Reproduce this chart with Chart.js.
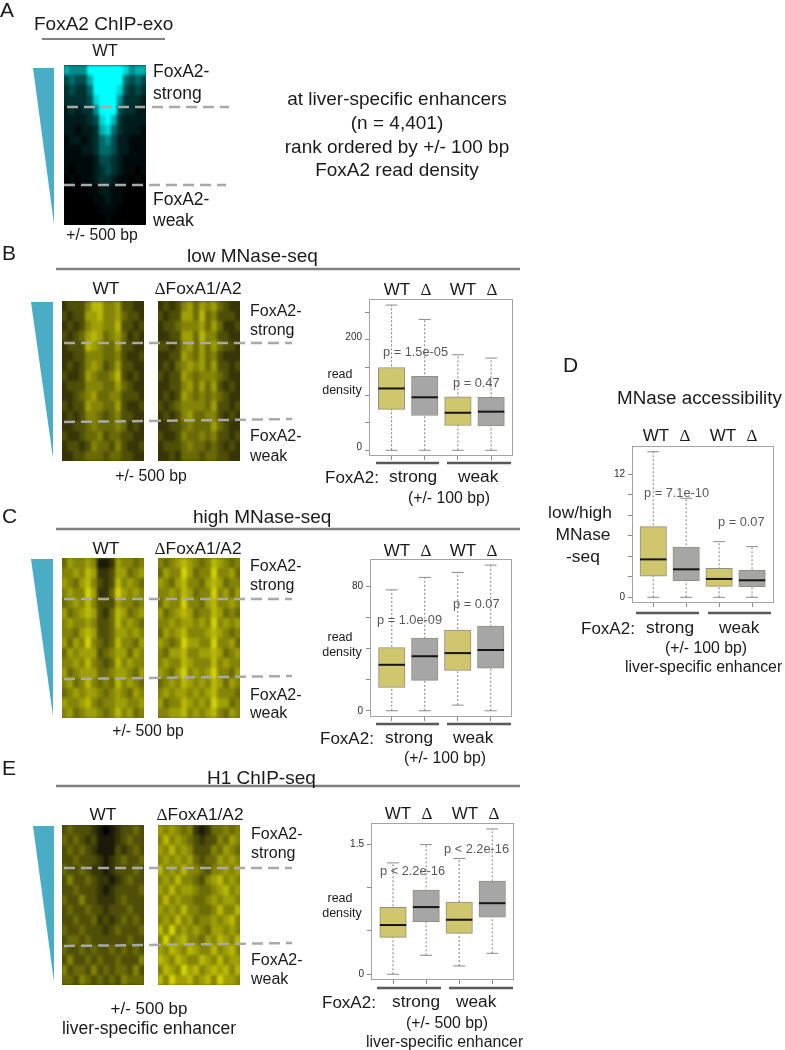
<!DOCTYPE html>
<html lang="en">
<head>
<meta charset="UTF-8">
<title>FoxA2 MNase figure</title>
<script src="https://cdn.jsdelivr.net/npm/chart.js"></script>
<style>
    html, body { margin: 0; padding: 0; background: #fff; }
    #page { position: relative; width: 785px; height: 1050px; overflow: hidden; font-family: "Liberation Sans", Arial, sans-serif; color: #1a1a1a; }
    #page svg { position: absolute; left: 0; top: 0; z-index: 3; }
    .txt { position: absolute; white-space: nowrap; line-height: 1; z-index: 4; }
    .heat { position: absolute; overflow: hidden; }
    .heat canvas { position: absolute; left: -1px; top: 0; filter: blur(1.7px); }
    .box { position: absolute; }
    .d { font-family: "Liberation Serif", serif; }
</style>
</head>
<body>
<div id="page">
    <svg id="marks" width="785" height="1050"></svg>
</div>
<script>
    // heatmap values, 0 (dark) to 9 (bright), rows top to bottom
    const chipExo = [
        [7,6,6,6,9,9,9,9,9,9,8,6,7,7],
        [4,5,4,4,7,9,9,9,9,9,5,4,5,4],
        [3,4,3,3,5,9,9,9,9,8,4,3,4,3],
        [3,3,3,3,4,8,9,9,9,6,3,3,3,2],
        [2,3,2,3,3,6,9,9,9,4,3,3,2,2],
        [2,2,2,2,3,4,8,9,7,3,2,2,2,2],
        [2,2,1,2,2,3,7,8,5,3,2,2,2,1],
        [1,2,2,1,2,3,5,6,4,2,2,1,1,1],
        [1,1,1,2,2,3,5,5,4,2,2,1,1,1],
        [1,1,1,1,1,2,4,4,3,2,1,1,1,1],
        [1,0,1,1,1,2,3,4,3,2,1,1,0,1],
        [0,1,0,1,1,2,3,3,2,1,1,0,1,0],
        [0,0,0,0,1,1,2,2,1,1,0,0,0,0],
        [0,0,0,0,0,1,1,2,1,1,0,0,0,0],
        [0,0,0,0,0,0,1,1,1,0,0,0,0,0],
        [0,0,0,0,0,0,0,1,0,0,0,0,0,0]
    ];
    const lowWT = [
        [2,3,3,3,5,7,7,5,5,6,3,3,2,2],
        [3,2,3,3,6,6,7,5,5,6,4,3,3,2],
        [2,3,2,3,5,6,6,5,5,7,3,3,2,3],
        [3,2,3,4,6,7,6,4,5,6,4,2,3,2],
        [2,3,3,3,7,6,5,4,4,6,3,3,2,2],
        [2,2,3,3,5,5,5,4,4,5,3,2,2,3],
        [2,3,2,3,5,6,5,3,4,6,3,3,2,2],
        [3,2,2,3,6,5,4,4,5,7,3,2,3,2],
        [2,3,3,3,5,5,5,4,4,6,4,3,2,2],
        [2,2,3,4,5,6,4,4,5,5,3,3,3,2],
        [3,2,3,3,6,5,5,4,4,6,3,2,2,3],
        [2,3,2,3,5,5,4,3,4,5,3,3,2,2],
        [2,2,3,3,4,5,4,4,4,5,4,2,3,2],
        [3,2,2,3,4,4,5,3,4,4,3,3,2,2],
        [2,3,3,2,3,5,4,4,3,5,3,2,2,3],
        [2,2,3,3,4,4,4,3,4,4,3,3,2,2]
    ];
    const lowKO = [
        [2,3,2,3,5,6,4,6,5,6,4,3,2,2],
        [3,2,3,3,6,6,4,7,4,5,3,3,3,2],
        [2,3,3,4,5,5,5,6,4,6,4,2,2,3],
        [2,2,3,3,6,6,4,7,5,5,3,3,2,2],
        [3,3,2,3,5,6,4,6,4,6,4,3,3,2],
        [2,2,3,3,6,5,4,6,4,5,3,2,2,2],
        [2,3,2,4,5,6,5,6,4,6,3,3,2,3],
        [3,2,3,3,6,5,4,5,5,5,4,3,2,2],
        [2,2,3,3,5,6,4,6,4,6,3,2,3,2],
        [2,3,2,3,6,5,4,5,4,5,4,3,2,2],
        [3,2,3,4,5,5,5,5,4,6,3,3,2,3],
        [2,3,2,3,5,6,4,4,5,5,3,2,3,2],
        [2,2,3,3,4,5,4,4,4,6,4,3,2,2],
        [3,2,2,3,5,4,4,5,4,5,3,3,2,3],
        [2,3,3,3,4,5,4,4,3,4,3,2,3,2],
        [2,2,3,2,4,4,4,3,4,4,3,3,2,2]
    ];
    const highWT = [
        [4,6,5,5,6,5,1,1,2,6,5,5,4,5],
        [5,5,6,5,7,6,2,2,3,6,6,4,5,6],
        [6,5,4,6,7,5,3,2,3,7,5,6,5,4],
        [5,6,5,5,8,6,2,2,4,8,6,5,6,5],
        [4,5,6,5,7,5,3,3,3,6,5,5,4,5],
        [6,4,5,6,7,6,3,2,4,7,6,4,5,6],
        [5,6,5,5,6,5,3,3,4,7,5,6,5,4],
        [5,5,4,6,7,6,3,3,4,6,6,5,6,5],
        [6,4,6,5,8,5,4,3,4,7,5,5,4,6],
        [4,6,5,6,6,6,3,4,5,6,6,4,6,5],
        [5,5,6,5,7,5,4,3,4,7,5,6,5,5],
        [6,4,5,6,6,6,4,4,5,6,6,5,4,6],
        [5,6,4,5,7,5,4,5,4,7,5,6,5,4],
        [4,5,6,5,6,6,5,4,5,6,5,4,6,5],
        [6,5,5,6,7,5,4,5,5,6,6,5,5,6],
        [5,6,4,5,6,6,5,4,5,7,5,6,4,5]
    ];
    const highKO = [
        [5,4,5,6,7,6,5,4,5,7,6,5,4,5],
        [4,6,5,5,8,6,4,5,5,8,5,5,6,4],
        [6,5,4,6,7,5,5,4,6,7,6,4,5,5],
        [5,5,6,5,7,6,4,5,5,8,5,6,4,6],
        [4,6,5,5,8,5,5,4,6,7,5,5,6,5],
        [6,4,5,6,7,6,4,5,5,7,6,4,5,4],
        [5,5,6,5,6,6,5,6,5,8,5,6,5,6],
        [4,6,5,6,7,5,5,5,6,7,6,5,4,5],
        [6,5,4,5,8,6,6,5,5,8,5,5,6,4],
        [5,4,6,6,7,5,5,6,6,7,6,4,5,6],
        [5,6,5,5,7,6,5,5,5,7,5,6,5,5],
        [6,5,4,6,8,5,6,5,6,8,5,5,4,6],
        [4,5,6,5,7,6,5,6,5,7,6,4,6,5],
        [5,6,5,6,6,5,6,5,6,7,5,5,5,4],
        [6,4,5,5,7,6,5,6,5,8,6,6,4,5],
        [5,5,6,6,7,5,6,5,6,7,5,4,6,5]
    ];
    const h1WT = [
        [3,4,3,3,3,2,1,0,1,2,3,3,4,3],
        [4,3,4,3,2,3,1,1,1,2,3,4,3,3],
        [3,4,3,4,3,2,1,1,1,3,2,3,4,3],
        [3,3,4,3,3,3,2,1,2,3,4,3,3,4],
        [4,3,3,4,3,2,2,1,2,3,3,3,4,3],
        [3,5,3,3,4,3,2,2,1,2,3,4,3,3],
        [3,3,4,3,3,3,2,1,2,3,3,3,3,4],
        [4,3,3,5,3,3,2,2,2,3,4,3,3,3],
        [3,4,3,3,4,3,3,2,3,3,3,4,3,3],
        [3,3,4,3,3,4,2,3,2,3,4,3,4,3],
        [4,3,3,4,3,3,3,2,3,4,3,3,3,4],
        [3,4,4,3,4,3,3,3,3,3,3,4,3,3],
        [4,3,3,4,3,4,3,3,4,3,4,3,4,3],
        [3,5,3,3,4,3,4,3,3,4,3,3,3,5],
        [5,3,4,4,3,5,3,4,3,4,4,3,5,3],
        [4,4,3,5,4,3,4,3,4,3,5,4,4,4]
    ];
    const h1KO = [
        [6,5,6,5,4,5,2,1,2,4,4,5,4,5],
        [5,7,5,6,5,4,3,2,3,3,5,4,6,5],
        [6,5,7,5,6,5,3,3,3,5,4,6,5,4],
        [5,6,5,6,5,6,4,3,4,4,6,5,6,5],
        [7,5,6,5,7,5,5,4,3,5,5,6,5,6],
        [5,6,5,7,5,5,4,3,5,6,7,5,6,5],
        [6,5,7,5,6,6,5,4,4,5,6,7,5,6],
        [5,7,5,6,5,5,4,4,5,6,5,6,6,5],
        [6,5,6,5,7,5,5,4,4,5,7,5,5,7],
        [5,6,5,7,5,6,4,5,5,6,5,6,7,5],
        [7,5,8,5,6,5,6,5,4,6,6,5,6,5],
        [5,8,5,6,7,5,5,4,6,5,7,6,5,7],
        [6,5,7,6,5,7,6,5,5,7,5,6,7,5],
        [7,6,5,7,6,5,5,7,6,5,7,5,6,6],
        [5,7,6,5,8,6,7,5,6,7,6,7,5,7],
        [7,5,8,6,6,7,5,6,7,5,8,6,6,5]
    ];

    // boxplot values, one per box: WT strong, KO strong, WT weak, KO weak
    const boxX = [1, 2, 3, 4];
    const boxColors = ['#cfc66e', '#a6a6a6', '#cfc66e', '#a6a6a6'];

    const lowLo = [0, 0, 0, 0];
    const lowQ1 = [74, 63, 45, 44];
    const lowMed = [112, 96, 68, 70];
    const lowQ3 = [150, 134, 97, 96];
    const lowHi = [263, 237, 173, 167];
    const lowTicks = [0, 50, 100, 150, 200, 250];
    const lowTickLabels = ['0', '', '', '', '200', ''];

    const highLo = [0, 0, 3.6, 0];
    const highQ1 = [15, 19.5, 25.9, 27.4];
    const highMed = [29.5, 35, 37, 39];
    const highQ3 = [40.6, 46.6, 51.8, 54.3];
    const highHi = [77.6, 85.6, 88.8, 93.5];
    const highTicks = [0, 20, 40, 60, 80];
    const highTickLabels = ['0', '', '', '', '80'];

    const h1Lo = [0, 0.219, 0.096, 0.242];
    const h1Q1 = [0.426, 0.606, 0.472, 0.66];
    const h1Med = [0.568, 0.775, 0.629, 0.82];
    const h1Q3 = [0.771, 0.97, 0.832, 1.074];
    const h1Hi = [1.285, 1.496, 1.335, 1.676];
    const h1Ticks = [0, 0.5, 1, 1.5];
    const h1TickLabels = ['0', '', '', '1.5'];

    const accLo = [0, 0, 0, 0];
    const accQ1 = [2.05, 1.63, 1.07, 1.04];
    const accMed = [3.7, 2.73, 1.79, 1.66];
    const accQ3 = [6.9, 4.9, 2.83, 2.63];
    const accHi = [14.2, 9.66, 5.43, 4.94];
    const accTicks = [0, 2, 4, 6, 8, 10, 12];
    const accTickLabels = ['0', '', '', '', '', '', '12'];

    const page = document.getElementById('page');
    const marks = document.getElementById('marks');

    function txt(str, x, y, size, opt) {
        opt = opt || {};
        const el = document.createElement('div');
        el.className = 'txt';
        el.innerHTML = str;
        el.style.left = x + 'px';
        el.style.top = (y - size / 2) + 'px';
        el.style.fontSize = size + 'px';
        if (opt.color) el.style.color = opt.color;
        if (opt.center) el.style.transform = 'translateX(-50%)';
        page.appendChild(el);
    }

    function svgEl(name, attrs) {
        const el = document.createElementNS('http://www.w3.org/2000/svg', name);
        for (const k in attrs) el.setAttribute(k, attrs[k]);
        marks.appendChild(el);
    }
    function rule(x1, x2, y, color, w) {
        svgEl('line', { x1: x1, x2: x2, y1: y, y2: y, stroke: color, 'stroke-width': w });
    }
    function dash(x1, y1, x2, y2) {
        svgEl('line', { x1: x1, y1: y1, x2: x2, y2: y2, stroke: '#a9a9a9', 'stroke-width': 2.5, 'stroke-dasharray': '11 6' });
    }
    function wedge(x1, x2, y1, y2) {
        svgEl('polygon', { points: x1 + ',' + y1 + ' ' + x2 + ',' + y1 + ' ' + x2 + ',' + y2, fill: '#4bacc6' });
    }

    function heatmap(rows, left, top, palette, bg) {
        const wrap = document.createElement('div');
        wrap.className = 'heat';
        wrap.style.cssText = 'left:' + left + 'px;top:' + top + 'px;width:82px;height:160px;background:' + bg;
        const cv = document.createElement('canvas');
        wrap.appendChild(cv);
        page.appendChild(wrap);
        cv.width = 84;
        cv.height = 160;
        new Chart(cv, {
            type: 'bar',
            data: {
                labels: rows[0].map((v, i) => i),
                datasets: rows.map(r => ({
                    data: r.map(() => 1),
                    backgroundColor: r.map(palette),
                    borderWidth: 0,
                    inflateAmount: 0,
                    barPercentage: 1,
                    categoryPercentage: 1
                }))
            },
            options: {
                responsive: false,
                animation: false,
                events: [],
                layout: { padding: 0, autoPadding: false },
                plugins: { legend: { display: false }, tooltip: { enabled: false } },
                scales: {
                    x: { display: false, stacked: true },
                    y: { display: false, stacked: true, reverse: true, min: 0, max: rows.length }
                }
            }
        });
    }
    const yellow = v => { const c = Math.round(v / 9 * 238); return 'rgb(' + c + ',' + c + ',8)'; };
    const cyan = v => { const c = Math.round(Math.pow(v / 9, 1.5) * 255); return 'rgb(0,' + c + ',' + c + ')'; };

    const framePlugin = {
        id: 'frame',
        beforeDraw(chart) {
            const a = chart.chartArea, ctx = chart.ctx;
            ctx.save();
            ctx.strokeStyle = '#a3a3a3';
            ctx.lineWidth = 1;
            ctx.strokeRect(a.left + 0.5, a.top + 0.5, a.width - 1, a.height - 1);
            ctx.restore();
        }
    };

    function boxplot(s, x0, x1, y0, y1) {
        const cv = document.createElement('canvas');
        cv.className = 'box';
        const padL = 32, padT = 2, padR = 2, padB = 8;
        cv.style.left = (x0 - padL) + 'px';
        cv.style.top = (y0 - padT) + 'px';
        cv.width = x1 - x0 + padL + padR;
        cv.height = y1 - y0 + padT + padB;
        page.appendChild(cv);
        const pts = vals => vals.map((v, i) => ({ x: boxX[i], y: v }));
        const whiskers = boxX.map((x, i) => ({
            type: 'line', order: 3,
            data: [{ x: x, y: s.lo[i] }, { x: x, y: s.hi[i] }],
            borderColor: '#7d7d7d', borderWidth: 1, borderDash: [2, 2], pointRadius: 0
        }));
        const capSet = vals => ({
            type: 'line', order: 3, showLine: false, data: pts(vals),
            pointStyle: 'line', pointRadius: 6, pointBorderColor: '#8a8a8a', pointBorderWidth: 1
        });
        new Chart(cv, {
            type: 'bar',
            data: {
                datasets: whiskers.concat([
                    capSet(s.lo),
                    capSet(s.hi),
                    {
                        type: 'bar', order: 2,
                        data: boxX.map((x, i) => ({ x: x, y: [s.q1[i], s.q3[i]] })),
                        backgroundColor: boxColors, borderColor: '#8f8f80', borderWidth: 1,
                        borderSkipped: false, barThickness: 26.5
                    },
                    {
                        type: 'line', order: 1, showLine: false, data: pts(s.med),
                        pointStyle: 'line', pointRadius: 13.2, pointBorderColor: '#141414', pointBorderWidth: 2
                    }
                ])
            },
            options: {
                responsive: false,
                animation: false,
                events: [],
                layout: { autoPadding: false, padding: { top: padT, right: padR, left: 0, bottom: 0 } },
                plugins: { legend: { display: false }, tooltip: { enabled: false } },
                scales: {
                    x: {
                        type: 'linear', offset: false, min: s.xMin, max: s.xMax,
                        grid: { offset: false, drawOnChartArea: false, color: '#8a8a8a', tickLength: 4 },
                        border: { display: false },
                        ticks: { callback: () => '', maxRotation: 0, autoSkip: false },
                        afterBuildTicks: a => { a.ticks = boxX.map(v => ({ value: v })); },
                        afterFit: a => { a.height = padB; a.paddingLeft = 0; a.paddingRight = 0; }
                    },
                    y: {
                        min: s.yMin, max: s.yMax,
                        grid: { drawOnChartArea: false, color: '#8a8a8a', tickLength: 4 },
                        border: { display: false },
                        ticks: {
                            autoSkip: false, color: '#2b2b2b', padding: 3, labelOffset: s.labelOffset || 0,
                            font: { family: '"Liberation Sans"', size: 10 },
                            callback: (v, i) => s.labels[i]
                        },
                        afterBuildTicks: a => { a.ticks = s.ticks.map(v => ({ value: v })); },
                        afterFit: a => { a.width = padL; a.paddingTop = 0; a.paddingBottom = 0; }
                    }
                }
            },
            plugins: [framePlugin]
        });
    }

    const pGrey = { color: '#595959' };
    const mid = { center: true };

    // panel A
    txt('A', 0, 9, 21);
    txt('FoxA2 ChIP-exo', 34, 23, 19);
    rule(42, 165, 39, '#808080', 2);
    txt('WT', 105, 50, 16.5, mid);
    wedge(33, 54, 68, 224);
    heatmap(chipExo, 64, 65, cyan, '#001414');
    dash(67, 107, 145, 107); dash(152, 107, 229, 107);
    dash(64, 185, 145, 185); dash(149, 185, 226, 185);
    txt('FoxA2-', 153, 72, 17.5);
    txt('strong', 153, 94, 17.5);
    txt('FoxA2-', 153, 200, 17.5);
    txt('weak', 153, 221, 17.5);
    txt('+/- 500 bp', 102, 235, 15.8, mid);
    txt('at liver-specific enhancers', 397, 98, 19, mid);
    txt('(n = 4,401)', 397, 122, 19, mid);
    txt('rank ordered by +/- 100 bp', 397, 146, 19, mid);
    txt('FoxA2 read density', 397, 169, 19, mid);

    // panel B
    txt('B', 2, 252, 21);
    txt('low MNase-seq', 187, 255, 19);
    rule(56, 520, 269, '#808080', 2.5);
    txt('WT', 106, 289, 17.3, mid);
    txt('<span class="d">Δ</span>FoxA1/A2', 198, 289, 17.3, mid);
    wedge(31, 53, 302, 458);
    heatmap(lowWT, 62, 301, yellow, '#3d3d00');
    heatmap(lowKO, 158, 301, yellow, '#3d3d00');
    dash(64, 343, 292, 343);
    dash(64, 422, 150, 421); dash(150, 421, 292, 419);
    txt('FoxA2-', 250, 311, 16);
    txt('strong', 250, 330, 16);
    txt('FoxA2-', 250, 436, 16);
    txt('weak', 250, 456, 16);
    txt('+/- 500 bp', 151, 476, 15.8, mid);
    boxplot({ lo: lowLo, q1: lowQ1, med: lowMed, q3: lowQ3, hi: lowHi, ticks: lowTicks, labels: lowTickLabels, labelOffset: -3,
        xMin: 0.32, xMax: 4.66, yMin: -10.3, yMax: 274 }, 369, 513, 299, 456);
    txt('WT', 397, 289, 17, mid); txt('<span class="d">Δ</span>', 426, 289, 17, mid);
    txt('WT', 463, 289, 17, mid); txt('<span class="d">Δ</span>', 492, 289, 17, mid);
    txt('p = 1.5e-05', 383, 352, 12.8, pGrey);
    txt('p = 0.47', 453, 383, 12.8, pGrey);
    txt('read', 340, 374, 12.5, mid);
    txt('density', 342, 390, 12.5, mid);
    rule(376, 439, 463, '#595959', 2.5); rule(447, 511, 463, '#595959', 2.5);
    txt('FoxA2:', 325, 477, 17); txt('strong', 389, 477, 17.3); txt('weak', 458, 477, 17.3);
    txt('(+/- 100 bp)', 408, 498, 15.8);

    // panel C
    txt('C', 2, 515, 21);
    txt('high MNase-seq', 193, 516, 19);
    rule(56, 520, 529, '#808080', 2.5);
    txt('WT', 106, 549, 17.3, mid);
    txt('<span class="d">Δ</span>FoxA1/A2', 198, 549, 17.3, mid);
    wedge(31, 53, 559, 716);
    heatmap(highWT, 62, 558, yellow, '#6e6e00');
    heatmap(highKO, 158, 558, yellow, '#6e6e00');
    dash(64, 599, 292, 599);
    dash(64, 679, 150, 678); dash(150, 678, 292, 676);
    txt('FoxA2-', 250, 566, 16);
    txt('strong', 250, 585, 16);
    txt('FoxA2-', 250, 695, 16);
    txt('weak', 250, 713, 16);
    txt('+/- 500 bp', 148, 731, 15.8, mid);
    boxplot({ lo: highLo, q1: highQ1, med: highMed, q3: highQ3, hi: highHi, ticks: highTicks, labels: highTickLabels,
        xMin: 0.34, xMax: 4.645, yMin: -4, yMax: 97.4 }, 370, 512, 559, 717);
    txt('WT', 397, 550, 17, mid); txt('<span class="d">Δ</span>', 426, 550, 17, mid);
    txt('WT', 463, 550, 17, mid); txt('<span class="d">Δ</span>', 492, 550, 17, mid);
    txt('p = 1.0e-09', 377, 620, 12.8, pGrey);
    txt('p = 0.07', 453, 604, 12.8, pGrey);
    txt('read', 340, 637, 12.5, mid);
    txt('density', 342, 652, 12.5, mid);
    rule(376, 439, 724, '#595959', 2.5); rule(447, 511, 724, '#595959', 2.5);
    txt('FoxA2:', 320, 738, 17); txt('strong', 385, 738, 17.3); txt('weak', 453, 738, 17.3);
    txt('(+/- 100 bp)', 404, 758, 15.8);

    // panel D
    txt('D', 563, 364, 21);
    txt('MNase accessibility', 617, 398, 18.8);
    boxplot({ lo: accLo, q1: accQ1, med: accMed, q3: accQ3, hi: accHi, ticks: accTicks, labels: accTickLabels,
        xMin: 0.355, xMax: 4.667, yMin: -0.556, yMax: 14.76 }, 632, 774, 446, 603);
    txt('WT', 656, 435, 17, mid); txt('<span class="d">Δ</span>', 685, 435, 17, mid);
    txt('WT', 723, 435, 17, mid); txt('<span class="d">Δ</span>', 752, 435, 17, mid);
    txt('p = 7.1e-10', 644, 493, 12.8, pGrey);
    txt('p = 0.07', 718, 522, 12.8, pGrey);
    txt('low/high', 580, 513, 17.4, mid);
    txt('MNase', 583, 535, 17.4, mid);
    txt('-seq', 583, 557, 17.4, mid);
    rule(636, 699, 613, '#595959', 2.5); rule(708, 771, 613, '#595959', 2.5);
    txt('FoxA2:', 581, 628, 17); txt('strong', 646, 628, 17.3); txt('weak', 719, 628, 17.3);
    txt('(+/- 100 bp)', 665, 648, 15.8);
    txt('liver-specific enhancer', 625, 667, 15.8);

    // panel E
    txt('E', 2, 767, 21);
    txt('H1 ChIP-seq', 207, 777, 19);
    rule(56, 520, 786, '#808080', 2.5);
    txt('WT', 103, 815, 17.3, mid);
    txt('<span class="d">Δ</span>FoxA1/A2', 200, 815, 17.3, mid);
    wedge(33, 54, 826, 982);
    heatmap(h1WT, 62, 825, yellow, '#3d3d00');
    heatmap(h1KO, 158, 825, yellow, '#6e6e00');
    dash(64, 868, 292, 868);
    dash(64, 946, 150, 945); dash(150, 945, 292, 943);
    txt('FoxA2-', 251, 834, 16);
    txt('strong', 251, 853, 16);
    txt('FoxA2-', 251, 960, 16);
    txt('weak', 251, 979, 16);
    txt('+/- 500 bp', 149, 1008, 17, mid);
    txt('liver-specific enhancer', 149, 1029, 17.5, mid);
    boxplot({ lo: h1Lo, q1: h1Q1, med: h1Med, q3: h1Q3, hi: h1Hi, ticks: h1Ticks, labels: h1TickLabels,
        xMin: 0.333, xMax: 4.658, yMin: -0.066, yMax: 1.745 }, 371, 514, 823, 980);
    txt('WT', 398, 813, 17, mid); txt('<span class="d">Δ</span>', 427, 813, 17, mid);
    txt('WT', 465, 813, 17, mid); txt('<span class="d">Δ</span>', 494, 813, 17, mid);
    txt('p &lt; 2.2e-16', 380, 871, 12.8, pGrey);
    txt('p &lt; 2.2e-16', 444, 849, 12.8, pGrey);
    txt('read', 340, 898, 12.5, mid);
    txt('density', 342, 913, 12.5, mid);
    rule(377, 441, 988, '#595959', 2.5); rule(449, 513, 988, '#595959', 2.5);
    txt('FoxA2:', 322, 1002, 17); txt('strong', 392, 1002, 17.3); txt('weak', 456, 1002, 17.3);
    txt('(+/- 500 bp)', 406, 1023, 15.8);
    txt('liver-specific enhancer', 366, 1042, 15.8);
</script>
</body>
</html>
